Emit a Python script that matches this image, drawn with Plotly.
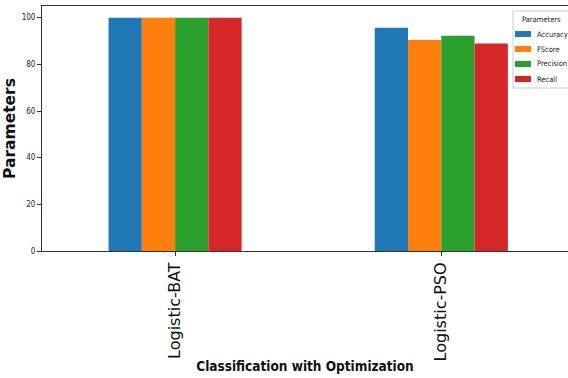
import plotly.graph_objects as go

categories = ["Logistic-BAT", "Logistic-PSO"]
series_names = ["Accuracy", "FScore", "Precision", "Recall"]
accuracy = [100, 95.7]
fscore = [100, 90.4]
precision = [100, 92.3]
recall = [100, 88.9]
colors = ["#1f77b4", "#ff7f0e", "#2ca02c", "#d62728"]

NARROW = "DejaVu Sans Condensed, Liberation Sans Narrow, Arial Narrow, sans-serif"

W, H = 568, 378
ML, MR, MT, MB = 42, 0, 6, 127
PW, PH = W - ML - MR, H - MT - MB


def px(x):
    return (x - ML) / PW


def py(y):
    return (H - MB - y) / PH


fig = go.Figure()
for name, vals, col in zip(series_names, [accuracy, fscore, precision, recall], colors):
    fig.add_trace(go.Bar(x=categories, y=vals, name=name, showlegend=False,
                         marker=dict(color=col, line=dict(width=0))))

# hand-drawn legend box (matplotlib style, partially cut at right edge)
shapes = [dict(type="rect", xref="paper", yref="paper",
               x0=px(513), x1=px(575), y0=py(88), y1=py(11),
               line=dict(color="#cccccc", width=1), fillcolor="white", layer="above")]
annotations = [dict(xref="paper", yref="paper", x=px(541.5), y=py(19.5), text="Parameters",
                    showarrow=False, xanchor="center", yanchor="middle",
                    font=dict(family=NARROW, size=7.5, color="#222"))]
for i, (name, col) in enumerate(zip(series_names, colors)):
    yc = 34 + 15 * i
    shapes.append(dict(type="rect", xref="paper", yref="paper",
                       x0=px(515), x1=px(531), y0=py(yc + 3), y1=py(yc - 3),
                       line=dict(width=0), fillcolor=col, layer="above"))
    annotations.append(dict(xref="paper", yref="paper", x=px(535), y=py(yc), text=name,
                            showarrow=False, xanchor="left", yanchor="middle",
                            font=dict(family=NARROW, size=7.5, color="#222")))

fig.update_layout(
    width=W, height=H,
    margin=dict(l=ML, r=MR, t=MT, b=MB, autoexpand=False),
    plot_bgcolor="white", paper_bgcolor="white",
    barmode="group", bargap=0.5, bargroupgap=0,
    showlegend=False,
    shapes=shapes, annotations=annotations,
    xaxis=dict(
        range=[-0.5, 1.476],
        showline=True, linecolor="#333", linewidth=1, mirror=True,
        ticks="outside", ticklen=4, tickcolor="#333",
        tickangle=-90, tickfont=dict(family="DejaVu Sans", size=16, color="#111"),
        title=dict(text="<b>Classification with Optimization</b>", font=dict(family=NARROW, size=13.5, color="#111"), standoff=1),
        showgrid=False,
    ),
    yaxis=dict(
        range=[0, 105],
        showline=True, linecolor="#333", linewidth=1, mirror=True,
        ticks="outside", ticklen=4, tickcolor="#333",
        tickvals=[0, 20, 40, 60, 80, 100],
        tickfont=dict(family=NARROW, size=8, color="#222"),
        title=dict(text="<b>Parameters</b>", font=dict(family="DejaVu Sans", size=15.5, color="#111"), standoff=2),
        showgrid=False, zeroline=False,
    ),
)

fig.write_html("out.html", config={"displayModeBar": False},
               post_script="document.body.style.margin='0px';")
